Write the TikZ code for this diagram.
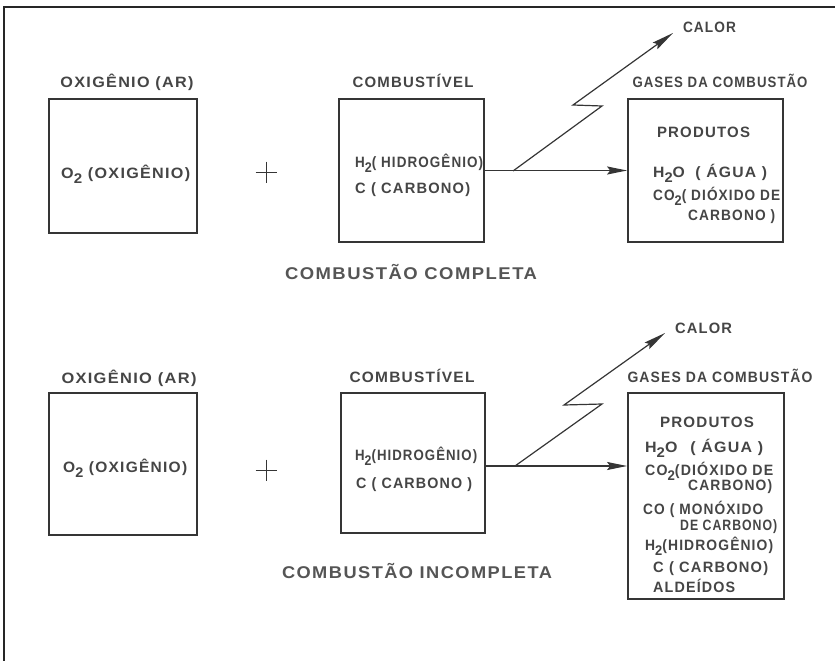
\documentclass[tikz,border=0pt]{standalone}
\usepackage{fontspec}
\setmainfont{Liberation Sans}
\newfontfamily\lblfont[LetterSpace=8]{Liberation Sans}
\usetikzlibrary{arrows.meta}
\definecolor{txt}{HTML}{454545}
\definecolor{captc}{HTML}{555555}
\definecolor{ink}{HTML}{353535}
\newsavebox\fitbox
\newlength\fitlen
\newcommand\fitto[2]{\sbox\fitbox{#2}\setlength\fitlen{\wd\fitbox}\pgfmathsetmacro\fitr{#1/\fitlen}\scalebox{\fitr}[1]{\usebox\fitbox}}
\newcommand\dn[1]{\raisebox{-5.5pt}{\fontsize{14}{14}\selectfont #1}}
\begin{document}
\begin{tikzpicture}[x=1pt,y=-1pt,
  box/.style={draw=ink,line width=1.8pt,inner sep=0pt},
  ttl/.style={text=txt,inner sep=0pt,anchor=base,font=\lblfont\bfseries\fontsize{15}{15}\selectfont},
  body/.style={text=txt,inner sep=0pt,anchor=base west,font=\lblfont\bfseries\fontsize{15}{15}\selectfont},
  captxt/.style={text=captc,inner sep=0pt,anchor=base,font=\lblfont\bfseries\fontsize{17}{17}\selectfont},
  arr/.style={draw=ink,line width=1.2pt,-{Stealth[length=20pt,width=8pt,inset=3pt]}},
  zig/.style={draw=ink,line width=1.2pt,line join=miter,-{Stealth[length=22pt,width=8pt,inset=3pt]}},
  plusline/.style={draw=ink,line width=1pt}]
\useasboundingbox (0,0) rectangle (835,661);
% frame
\draw[draw=black!85,line width=1.8pt] (4,661) -- (4,7) -- (835,7);

% ===== COMPLETA =====
\node[ttl] (tOxA) at (127,88) {\fitto{133}{OXIGÊNIO (AR)}};
\node[box,minimum width=148pt,minimum height=134pt] (oxA) at (123,166) {};
\node[body] (oA) at (61,178) {\fitto{129}{O\dn{2} (OXIGÊNIO)}};
\node[inner sep=0pt] (plusA) at (266,172) {};
\draw[plusline] (plusA.center) +(-10.5,0) -- +(10.5,0) +(0,-10.5) -- +(0,10.5);

\node[ttl] (tFuA) at (413,88) {\fitto{121}{COMBUSTÍVEL}};
\node[box,minimum width=145pt,minimum height=143pt] (fuA) at (411.5,170.5) {};
\node[body] (hA) at (355,167) {\fitto{128}{H\dn{2}( HIDROGÊNIO)}};
\node[body] (cA) at (355,193) {\fitto{115}{C ( CARBONO)}};

\node[ttl] (tGasA) at (720,88) {\fitto{175}{GASES DA COMBUSTÃO}};
\node[box,minimum width=155pt,minimum height=143pt] (gasA) at (705.5,170.5) {};
\node[ttl] (prA) at (703.5,137) {\fitto{93}{PRODUTOS}};
\node[body] (h2oA) at (653,177) {\fitto{114}{H\dn{2}O\hspace{10pt}( ÁGUA )}};
\node[body] (co2A) at (653,200) {\fitto{127}{CO\dn{2}( DIÓXIDO DE}};
\node[body] (carA) at (688,220) {\fitto{87}{CARBONO )}};

\node[ttl] (calA) at (709.5,33) {\fitto{53}{CALOR}};
\node[captxt] (capA) at (411,279) {\fitto{252}{COMBUSTÃO COMPLETA}};

\draw[arr] (fuA.east) -- (gasA.west);
\coordinate (lzA0) at (513,171);
\coordinate (lzA1) at (602,106);
\coordinate (lzA2) at (573,105);
\coordinate (lzA3) at (673,33);
\draw[zig] (lzA0) -- (lzA1) -- (lzA2) -- (lzA3);

% ===== INCOMPLETA =====
\node[ttl] (tOxB) at (129,383) {\fitto{135}{OXIGÊNIO (AR)}};
\node[box,minimum width=148pt,minimum height=142pt] (oxB) at (123,464) {};
\node[body] (oB) at (63,472) {\fitto{124}{O\dn{2} (OXIGÊNIO)}};
\node[inner sep=0pt] (plusB) at (266,470) {};
\draw[plusline] (plusB.center) +(-10.5,0) -- +(10.5,0) +(0,-10.5) -- +(0,10.5);

\node[ttl] (tFuB) at (412,382) {\fitto{125}{COMBUSTÍVEL}};
\node[box,minimum width=144pt,minimum height=140pt] (fuB) at (413,463) {};
\node[body] (hB) at (355,460) {\fitto{122}{H\dn{2}(HIDROGÊNIO)}};
\node[body] (cB) at (356,488) {\fitto{116}{C ( CARBONO )}};

\node[ttl] (tGasB) at (720,382) {\fitto{185}{GASES DA COMBUSTÃO}};
\node[box,minimum width=156pt,minimum height=206pt] (gasB) at (706,496) {};
\node[ttl] (prB) at (707,427) {\fitto{94}{PRODUTOS}};
\node[body] (h2oB) at (645,452) {\fitto{118}{H\dn{2}O\hspace{12pt}( ÁGUA )}};
\node[body] (co2B) at (645,475) {\fitto{128}{CO\dn{2}(DIÓXIDO DE}};
\node[body] (carB) at (688,490) {\fitto{84}{CARBONO)}};
\node[body] (monB) at (643,514) {\fitto{120}{CO ( MONÓXIDO}};
\node[body] (deB) at (680,530) {\fitto{97}{DE CARBONO)}};
\node[body] (hidB) at (645,550) {\fitto{128}{H\dn{2}(HIDROGÊNIO)}};
\node[body] (cB2) at (653,572) {\fitto{115}{C ( CARBONO)}};
\node[body] (aldB) at (653,592) {\fitto{82}{ALDEÍDOS}};

\node[ttl] (calB) at (703.5,333) {\fitto{57}{CALOR}};
\node[captxt] (capB) at (417,578) {\fitto{270}{COMBUSTÃO INCOMPLETA}};

\draw[arr] ([yshift=-3pt]fuB.east) -- ([yshift=-3pt]fuB.east -| gasB.west);
\coordinate (lzB0) at (515,466);
\coordinate (lzB1) at (602,404);
\coordinate (lzB2) at (564,405);
\coordinate (lzB3) at (665,333);
\draw[zig] (lzB0) -- (lzB1) -- (lzB2) -- (lzB3);
\end{tikzpicture}
\end{document}
